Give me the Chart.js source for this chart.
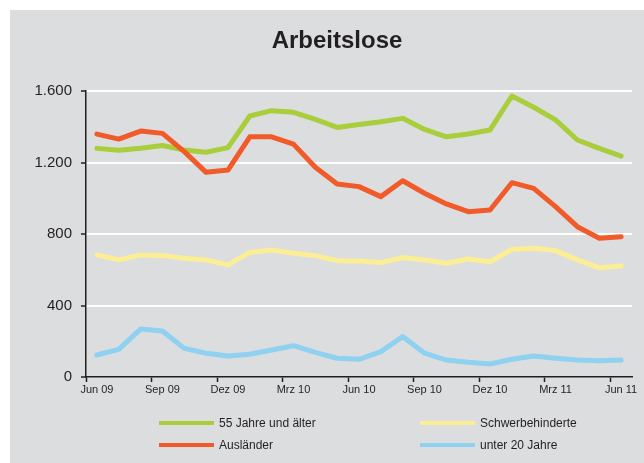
<!DOCTYPE html>
<html lang="de">
<head>
<meta charset="utf-8">
<title>Arbeitslose</title>
<script src="https://cdn.jsdelivr.net/npm/chart.js@4"></script>
<style>
    html, body { margin: 0; padding: 0; background: #ffffff; }
    #wrap {
        position: absolute;
        left: 10px;
        top: 10px;
        width: 634px;
        height: 453px;
        background: #dcdddf;
    }
</style>
</head>
<body>
<div id="wrap"><canvas id="unemployedChart"></canvas></div>
<script>
// Monatswerte Jun 09 - Jun 11
const months = ['Jun 09', 'Jul 09', 'Aug 09', 'Sep 09', 'Okt 09', 'Nov 09', 'Dez 09', 'Jan 10', 'Feb 10',
    'Mrz 10', 'Apr 10', 'Mai 10', 'Jun 10', 'Jul 10', 'Aug 10', 'Sep 10', 'Okt 10', 'Nov 10', 'Dez 10',
    'Jan 11', 'Feb 11', 'Mrz 11', 'Apr 11', 'Mai 11', 'Jun 11'];

const age55 = [1279, 1268, 1280, 1295, 1270, 1257, 1283, 1460, 1490, 1481, 1441, 1396, 1413,
    1428, 1447, 1385, 1344, 1359, 1382, 1572, 1509, 1438, 1326, 1279, 1236];
const disabled = [683, 655, 683, 679, 664, 655, 627, 697, 711, 692, 679, 651, 649,
    640, 668, 655, 636, 660, 645, 714, 720, 707, 655, 611, 621];
const foreigners = [1359, 1331, 1376, 1363, 1261, 1145, 1158, 1344, 1344, 1303, 1173, 1080, 1065,
    1009, 1098, 1028, 968, 925, 934, 1087, 1055, 953, 841, 776, 785];
const under20 = [123, 155, 268, 257, 160, 133, 117, 127, 151, 175, 138, 105, 99,
    142, 226, 133, 95, 82, 73, 99, 117, 105, 95, 91, 95];

const yTickLabels = ['0', '400', '800', '1.200', '1.600'];

const textColor = '#231f20';
const fontFamily = '"Liberation Sans", Arial, sans-serif';

// Titel und Legende (2 Spalten) selbst zeichnen
const titleAndLegend = {
    id: 'titleAndLegend',
    afterDraw(chart) {
        const ctx = chart.ctx;
        const area = chart.chartArea;
        ctx.save();
        ctx.fillStyle = textColor;
        ctx.font = 'bold 24px ' + fontFamily;
        ctx.textAlign = 'center';
        ctx.textBaseline = 'middle';
        ctx.fillText('Arbeitslose', 327, 31);

        const cols = [area.left + 73, area.left + 334];
        const rows = [area.bottom + 46, area.bottom + 68];
        ctx.font = '12px ' + fontFamily;
        ctx.textAlign = 'left';
        chart.data.datasets.forEach((ds, i) => {
            const x = cols[i % 2];
            const y = rows[Math.floor(i / 2)];
            ctx.strokeStyle = ds.borderColor;
            ctx.lineWidth = 4;
            ctx.lineCap = 'butt';
            ctx.beginPath();
            ctx.moveTo(x, y);
            ctx.lineTo(x + 55, y);
            ctx.stroke();
            ctx.fillStyle = textColor;
            ctx.fillText(ds.label, x + 60, y + 1);
        });
        ctx.restore();
    }
};

function lineSet(label, data, color, order) {
    return {
        label: label,
        data: data,
        borderColor: color,
        backgroundColor: color,
        borderWidth: 5,
        pointRadius: 0,
        tension: 0,
        borderJoinStyle: 'round',
        borderCapStyle: 'round',
        order: order
    };
}

const ctx = document.getElementById('unemployedChart').getContext('2d');
const chart = new Chart(ctx, {
    type: 'line',
    data: {
        labels: months,
        datasets: [
            lineSet('55 Jahre und älter', age55, '#a9cd3b', 1),
            lineSet('Schwerbehinderte', disabled, '#fbee94', 1),
            lineSet('Ausländer', foreigners, '#f15a29', 0),
            lineSet('unter 20 Jahre', under20, '#8ed1f1', 1)
        ]
    },
    options: {
        responsive: true,
        maintainAspectRatio: false,
        animation: false,
        layout: {
            padding: { top: 81, right: 12, left: 0, bottom: 0 }
        },
        plugins: {
            legend: { display: false },
            title: { display: false },
            tooltip: { enabled: false }
        },
        scales: {
            x: {
                type: 'category',
                offset: true,
                afterFit: function(scale) { scale.height = 86; },
                border: { color: textColor, width: 1.5 },
                grid: {
                    offset: true,
                    drawOnChartArea: false,
                    tickLength: 5,
                    tickWidth: 1.5,
                    color: 'rgba(0,0,0,0)',
                    tickColor: function(c) {
                        return (c.index !== undefined && c.index % 3 === 0) ? textColor : 'rgba(0,0,0,0)';
                    }
                },
                ticks: {
                    autoSkip: false,
                    maxRotation: 0,
                    padding: 1,
                    color: textColor,
                    font: { family: fontFamily, size: 11 },
                    callback: function(value, index) {
                        return index % 3 === 0 ? months[index] : '';
                    }
                }
            },
            y: {
                min: 0,
                max: 1600,
                afterFit: function(scale) { scale.width = 76; },
                border: { color: textColor, width: 1.5 },
                grid: {
                    color: function(c) {
                        return (c.tick && c.tick.value === 0) ? 'rgba(0,0,0,0)' : '#ffffff';
                    },
                    lineWidth: 2,
                    tickLength: 5,
                    tickWidth: 1.5,
                    tickColor: textColor
                },
                ticks: {
                    stepSize: 400,
                    padding: 9,
                    color: textColor,
                    font: { family: fontFamily, size: 15 },
                    callback: function(value, index) {
                        return yTickLabels[index];
                    }
                }
            }
        }
    },
    plugins: [titleAndLegend]
});
</script>
</body>
</html>
